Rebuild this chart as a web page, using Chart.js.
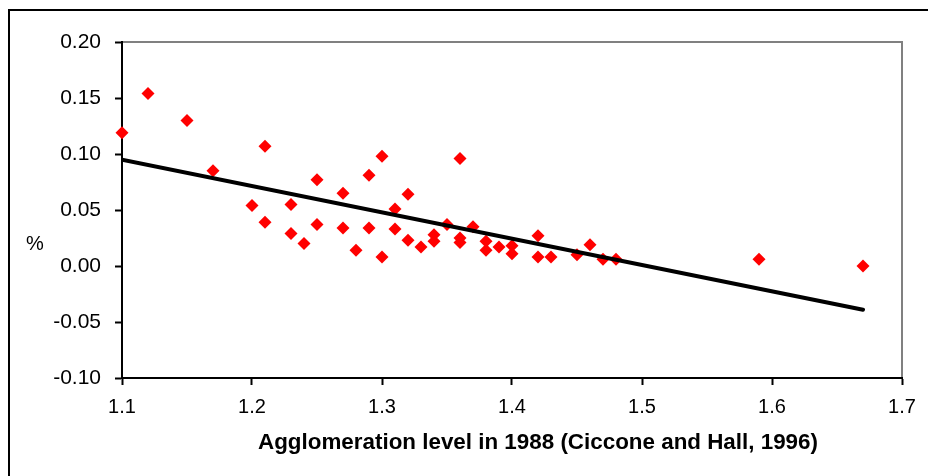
<!DOCTYPE html>
<html>
<head>
<meta charset="utf-8">
<script src="https://cdn.jsdelivr.net/npm/chart.js@4.4.1/dist/chart.umd.min.js"></script>
<style>
  html, body { margin: 0; padding: 0; background: #ffffff; }
  #wrap { width: 928px; height: 476px; position: relative; }
</style>
</head>
<body>
<div id="wrap"><canvas id="c" width="928" height="476"></canvas></div>
<script>
// ---- data ----
const agglomeration = [1.10, 1.12, 1.15, 1.17, 1.20, 1.21, 1.21, 1.23, 1.23, 1.24,
                       1.25, 1.25, 1.27, 1.27, 1.28, 1.29, 1.29, 1.30, 1.30, 1.31,
                       1.31, 1.32, 1.32, 1.33, 1.34, 1.34, 1.35, 1.36, 1.36, 1.36,
                       1.37, 1.38, 1.38, 1.39, 1.40, 1.40, 1.42, 1.42, 1.43, 1.45,
                       1.46, 1.47, 1.48, 1.59, 1.67];
const growth = [0.119, 0.154, 0.130, 0.085, 0.054, 0.107, 0.039, 0.055, 0.029, 0.020,
                0.077, 0.037, 0.065, 0.034, 0.014, 0.081, 0.034, 0.098, 0.008, 0.051,
                0.033, 0.064, 0.023, 0.017, 0.028, 0.022, 0.037, 0.096, 0.025, 0.021,
                0.035, 0.022, 0.014, 0.017, 0.018, 0.011, 0.027, 0.008, 0.008, 0.010,
                0.019, 0.006, 0.006, 0.006, 0.000];
const trendX = [1.10, 1.67];
const trendY = [0.095, -0.039];
const xTicks = [1.1, 1.2, 1.3, 1.4, 1.5, 1.6, 1.7];
const yTicks = [-0.10, -0.05, 0.00, 0.05, 0.10, 0.15, 0.20];
const xTitle = 'Agglomeration level in 1988 (Ciccone and Hall, 1996)';
const yTitle = '%';

Chart.defaults.font.family = "'Liberation Sans', Arial, Helvetica, sans-serif";
Chart.defaults.color = '#000000';

const scatterPts = agglomeration.map((x, i) => ({ x: x, y: growth[i] }));
const trendPts = trendX.map((x, i) => ({ x: x, y: trendY[i] }));

const framePlugin = {
  id: 'frame',
  beforeDraw(chart) {
    const ctx = chart.ctx;
    ctx.save();
    ctx.fillStyle = '#ffffff';
    ctx.fillRect(0, 0, chart.width, chart.height);
    ctx.strokeStyle = '#000000';
    ctx.lineWidth = 2;
    ctx.strokeRect(9, 10, chart.width + 20, chart.height + 20);
    const a = chart.chartArea;
    ctx.strokeStyle = '#808080';
    ctx.lineWidth = 2;
    ctx.beginPath();
    ctx.moveTo(a.left, a.top);
    ctx.lineTo(a.right, a.top);
    ctx.lineTo(a.right, a.bottom);
    ctx.stroke();
    ctx.restore();
  },
  afterDraw(chart) {
    const ctx = chart.ctx;
    const ys = chart.scales.y;
    const a = chart.chartArea;
    ctx.save();
    ctx.fillStyle = '#000000';
    ctx.font = "20px 'Liberation Sans', Arial, sans-serif";
    ctx.textAlign = 'center';
    ctx.textBaseline = 'middle';
    ctx.fillText(yTitle, 35, ys.getPixelForValue(0.019));
    ctx.font = "bold 22.4px 'Liberation Sans', Arial, sans-serif";
    ctx.fillText(xTitle, a.left + 416, 443);
    ctx.restore();
  }
};

new Chart(document.getElementById('c'), {
  type: 'scatter',
  data: {
    datasets: [
      {
        type: 'line',
        label: 'trend',
        data: trendPts,
        borderColor: '#000000',
        borderWidth: 4,
        borderCapStyle: 'round',
        pointRadius: 0,
        fill: false
      },
      {
        label: 'growth',
        data: scatterPts,
        clip: false,
        pointStyle: 'rectRot',
        pointRadius: 6.5,
        pointHoverRadius: 6.5,
        backgroundColor: '#ff0000',
        borderColor: '#ff0000',
        borderWidth: 0
      }
    ]
  },
  options: {
    responsive: false,
    animation: false,
    events: [],
    layout: { padding: { left: 0, right: 26, top: 42, bottom: 0 } },
    plugins: { legend: { display: false }, tooltip: { enabled: false } },
    scales: {
      x: {
        type: 'linear',
        min: xTicks[0],
        max: xTicks[xTicks.length - 1],
        afterBuildTicks(scale) { scale.ticks = xTicks.map(v => ({ value: v })); },
        afterFit(scale) { scale.height = 98; },
        ticks: {
          font: { size: 20 },
          color: '#000000',
          padding: 10,
          maxRotation: 0,
          callback: v => Number(v).toFixed(1)
        },
        grid: { drawOnChartArea: false, drawTicks: true, tickLength: 7, tickColor: '#000000', tickWidth: 2 },
        border: { display: true, color: '#000000', width: 2 }
      },
      y: {
        type: 'linear',
        min: yTicks[0],
        max: yTicks[yTicks.length - 1],
        afterBuildTicks(scale) { scale.ticks = yTicks.map(v => ({ value: v })); },
        afterFit(scale) { scale.width = 122; },
        ticks: {
          font: { size: 21 },
          color: '#000000',
          padding: 14,
          callback: v => Number(v).toFixed(2)
        },
        grid: { drawOnChartArea: false, drawTicks: true, tickLength: 7, tickColor: '#000000', tickWidth: 2 },
        border: { display: true, color: '#000000', width: 2 }
      }
    }
  },
  plugins: [framePlugin]
});
</script>
</body>
</html>
